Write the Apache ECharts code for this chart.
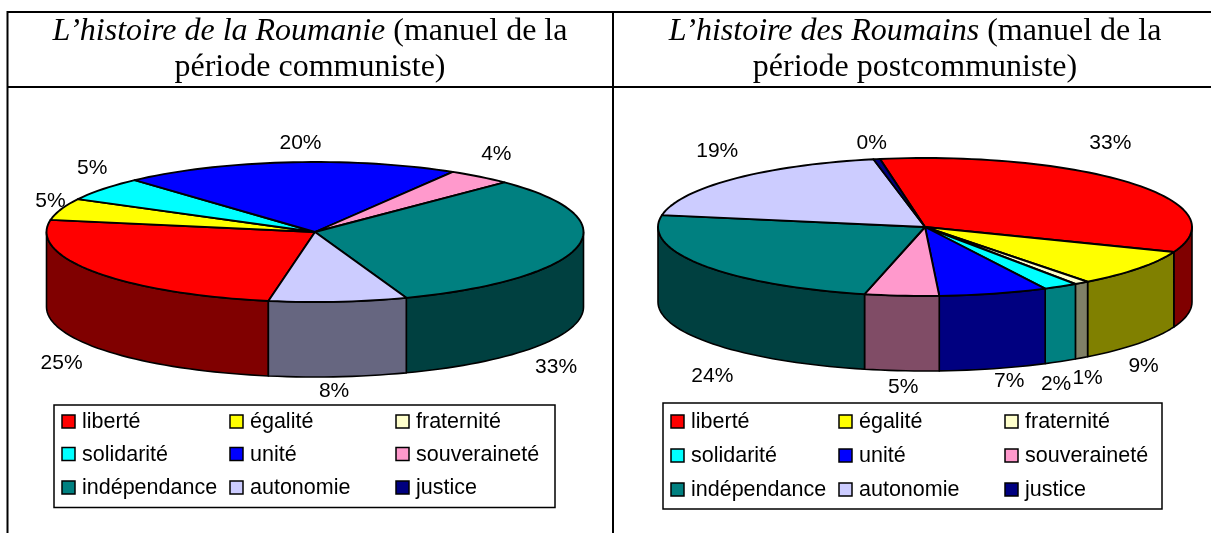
<!DOCTYPE html>
<html><head><meta charset="utf-8">
<style>html,body{margin:0;padding:0;background:#fff}#c{width:1211px;height:533px}</style>
<script src="https://cdn.jsdelivr.net/npm/echarts@6/dist/echarts.min.js"></script>
</head><body><div id="c"></div>
<script>
const categories = ['liberté','égalité','fraternité','solidarité','unité','souveraineté','indépendance','autonomie','justice'];
const valuesCommunist = [25, 5, 0, 5.5, 20.3, 3.9, 32, 8.3, 0];
const valuesPostcommunist = [33.7, 8.7, 0.9, 2.1, 6.6, 4.5, 24.2, 19.2, 0.4];
const labelsCommunist = ['25%','5%','','5%','20%','4%','33%','8%',''];
const labelsPostcommunist = ['33%','9%','1%','2%','7%','5%','24%','19%','0%'];
const colors = ['#FF0000','#FFFF00','#FFFFCC','#00FFFF','#0000FF','#FF99CC','#008080','#CCCCFF','#000080'];
const sideColors = ['#800000','#808000','#808066','#008080','#000080','#804C66','#004040','#666680','#000040'];

const layouts = [{
  cx:315, cy:232, rx:268.5, ry:70, depth:75, start:190,
  labels:labelsCommunist, values:valuesCommunist,
  nudges:[[-33.5,16],[-10.7,-8],[0,0],[-11,-21],[12,-19.5],[16.4,-23],[-21,45],[-4,14],[0,0]],
  box:[54,405,501,102.5], swX:[62,230,396], txX:[82,250,416], rowY:[422,454.5,488]
},{
  cx:925, cy:227, rx:267, ry:69, depth:75, start:350.3,
  labels:labelsPostcommunist, values:valuesPostcommunist,
  nudges:[[-21.5,-40],[5,23],[6,20],[-4.5,22.5],[15.5,12.7],[1.5,16],[10,36],[-17,-28],[-5,-16]],
  box:[663,403,499,106], swX:[671,839,1005], txX:[691,859,1025], rowY:[422,456,490]
}];

const rad = d => d*Math.PI/180;
function renderFor(L){
  const total = L.values.reduce((a,b)=>a+b,0);
  const pt = (t,dy)=>[L.cx+L.rx*Math.sin(rad(t)), L.cy-L.ry*Math.cos(rad(t))+(dy||0)];
  function arc(a,b,dy){ const n=Math.max(2,Math.ceil(Math.abs(b-a)/2)); const r=[]; for(let i=0;i<=n;i++) r.push(pt(a+(b-a)*i/n,dy)); return r; }
  return function(params, api){
    const i = params.dataIndex, v = api.value(0);
    const children = [];
    let before = 0; for(let k=0;k<i;k++) before += L.values[k];
    const a = L.start + before/total*360, b = a + v/total*360;
    if(v>0){
      for(const off of [0,360]){
        const s=Math.max(a,90+off), e=Math.min(b,270+off);
        if(e>s){
          const top=arc(s,e,0), bot=arc(e,s,L.depth);
          children.push({type:'polygon',shape:{points:top.concat(bot)},style:{fill:sideColors[i],stroke:'#000',lineWidth:1.6,lineJoin:'round'}});
        }
      }
      children.push({type:'polygon',shape:{points:[[L.cx,L.cy]].concat(arc(a,b,0))},style:{fill:colors[i],stroke:'#000',lineWidth:1.9,lineJoin:'round'}});
    }
    const txt = L.labels[i];
    if(txt){
      const m=(a+b)/2, c=Math.cos(rad(m));
      const p=pt(m,c<0?L.depth:0), n=L.nudges[i];
      children.push({type:'text',x:p[0]+n[0],y:p[1]+n[1],z2:50,style:{text:txt,x:0,y:0,align:'center',verticalAlign:'middle',fontFamily:'Liberation Sans',fontSize:21,fill:'#000'}});
    }
    const col=i%3,row=Math.floor(i/3),y=L.rowY[row];
    children.push({type:'rect',shape:{x:L.swX[col],y:y-7,width:13,height:13},style:{fill:colors[i],stroke:'#000',lineWidth:1.5},z2:60});
    children.push({type:'text',x:L.txX[col],y:y+0.5,z2:60,style:{text:categories[i],x:0,y:0,align:'left',verticalAlign:'middle',fontFamily:'Liberation Sans',fontSize:21.5,fill:'#000'}});
    return {type:'group',children};
  };
}

const line=(x1,y1,x2,y2)=>({type:'line',shape:{x1,y1,x2,y2},style:{stroke:'#000',lineWidth:2},silent:true});
const titleRich={i:{fontFamily:'Liberation Serif',fontStyle:'italic',fontWeight:'normal',fontSize:32,lineHeight:36,color:'#000'},n:{fontFamily:'Liberation Serif',fontWeight:'normal',fontSize:32,lineHeight:36,color:'#000'}};

const option={
  animation:false,
  backgroundColor:'#fff',
  title:[
    {text:"{i|L’histoire de la Roumanie}{n| (manuel de la}\n{n|période communiste)}",left:310,top:14,textAlign:'center',textStyle:{rich:titleRich,fontWeight:'normal'},padding:0},
    {text:"{i|L’histoire des Roumains}{n| (manuel de la}\n{n|période postcommuniste)}",left:915,top:14,textAlign:'center',textStyle:{rich:titleRich,fontWeight:'normal'},padding:0}
  ],
  graphic:[
    line(7,12,1211,12),line(7,87,1211,87),line(7.5,11,7.5,533),line(613,11,613,533),
    {type:'rect',shape:{x:layouts[0].box[0],y:layouts[0].box[1],width:layouts[0].box[2],height:layouts[0].box[3]},style:{fill:'#fff',stroke:'#000',lineWidth:1.5}},
    {type:'rect',shape:{x:layouts[1].box[0],y:layouts[1].box[1],width:layouts[1].box[2],height:layouts[1].box[3]},style:{fill:'#fff',stroke:'#000',lineWidth:1.5}}
  ],
  series:layouts.map((L,k)=>({
    type:'custom',name:k?'L’histoire des Roumains':'L’histoire de la Roumanie',coordinateSystem:'none',z:10,
    data:L.values.map((v,i)=>({name:categories[i],value:[v]})),
    renderItem:renderFor(L),
    clip:false
  }))
};
const chart=echarts.init(document.getElementById('c'),null,{renderer:'canvas'});
chart.setOption(option);
</script></body></html>
